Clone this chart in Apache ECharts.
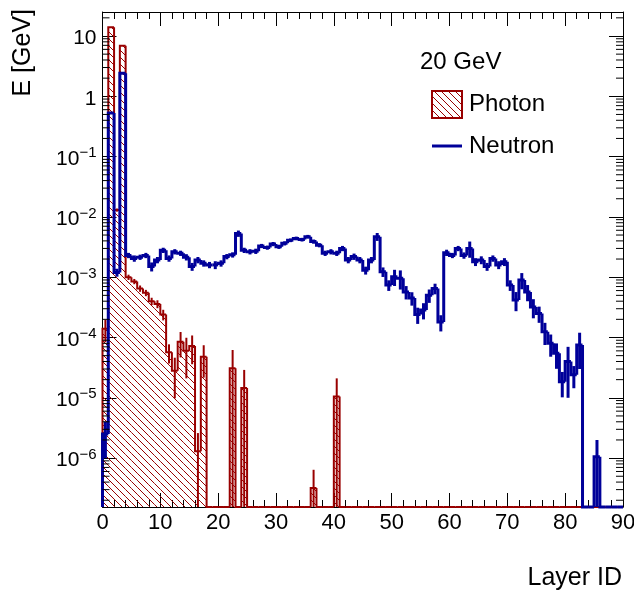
<!DOCTYPE html>
<html>
<head>
<meta charset="utf-8">
<script src="https://cdn.jsdelivr.net/npm/echarts@6/dist/echarts.min.js"></script>
<style>
  html, body { margin: 0; padding: 0; background: #fff; overflow: hidden; }
  #chart { width: 634px; height: 593px; }
</style>
</head>
<body>
<div id="chart"></div>
<script>
// Layer index of each histogram bin (bin k covers [k, k+1])
const layers = Array.from({ length: 90 }, (_, i) => i);

// Deposited energy per layer [GeV], 20 GeV photon
const photonE = [
  1.4e-4, 13.9, 1.3e-2, 6.9, 1.0e-3, 8.5e-4, 6.5e-4, 5.5e-4, 4.0e-4, 3.6e-4,
  2.4e-4, 5.7e-5, 2.8e-5, 8.5e-5, 6.0e-5, 7.2e-5, 1.3e-6, 4.8e-5, 0, 0,
  0, 0, 3.1e-5, 0, 1.45e-5, 0, 0, 0, 0, 0,
  0, 0, 0, 0, 0, 0, 3.2e-7, 0, 0, 0,
  1.05e-5, 0, 0, 0, 0, 0, 0, 0, 0, 0,
  0, 0, 0, 0, 0, 0, 0, 0, 0, 0,
  0, 0, 0, 0, 0, 0, 0, 0, 0, 0,
  0, 0, 0, 0, 0, 0, 0, 0, 0, 0,
  0, 0, 0, 0, 0, 0, 0, 0, 0, 0
];
// Relative statistical error of each photon bin
const photonRelErr = [
  0.4, 0.01, 0.06, 0.01, 0.1, 0.1, 0.12, 0.12, 0.14, 0.15,
  0.2, 0.35, 0.65, 0.45, 0.65, 0.5, 1.0, 0.55, 0, 0,
  0, 0, 1.0, 0, 1.0, 0, 0, 0, 0, 0,
  0, 0, 0, 0, 0, 0, 1.0, 0, 0, 0,
  1.0, 0, 0, 0, 0, 0, 0, 0, 0, 0,
  0, 0, 0, 0, 0, 0, 0, 0, 0, 0,
  0, 0, 0, 0, 0, 0, 0, 0, 0, 0,
  0, 0, 0, 0, 0, 0, 0, 0, 0, 0,
  0, 0, 0, 0, 0, 0, 0, 0, 0, 0
];

// Deposited energy per layer [GeV], 20 GeV neutron
const neutronE = [
  2.5e-6, 0.53, 1.2e-3, 2.4, 2.3e-3, 2.05e-3, 2.15e-3, 2.3e-3, 1.5e-3, 1.93e-3,
  2.8e-3, 2.05e-3, 2.65e-3, 2.5e-3, 2.15e-3, 1.5e-3, 1.93e-3, 1.7e-3, 1.6e-3, 1.6e-3,
  1.7e-3, 2.2e-3, 2.35e-3, 5.3e-3, 2.8e-3, 2.65e-3, 2.7e-3, 3.3e-3, 3.1e-3, 3.55e-3,
  3.2e-3, 3.65e-3, 4.1e-3, 4.4e-3, 4.2e-3, 4.7e-3, 3.9e-3, 3.4e-3, 2.5e-3, 2.65e-3,
  2.5e-3, 3.0e-3, 1.93e-3, 2.2e-3, 1.93e-3, 1.3e-3, 1.93e-3, 4.7e-3, 1.23e-3, 7.4e-4,
  1.02e-3, 9.6e-4, 5.7e-4, 4.5e-4, 2.4e-4, 2.85e-4, 5.0e-4, 6.5e-4, 1.8e-4, 2.55e-3,
  2.3e-3, 3.0e-3, 2.3e-3, 3.0e-3, 1.8e-3, 1.93e-3, 1.5e-3, 2.05e-3, 1.6e-3, 1.8e-3,
  7.4e-4, 4.2e-4, 9.0e-4, 5.7e-4, 3.2e-4, 2.5e-4, 1.25e-4, 8.0e-5, 5.5e-5, 1.85e-5,
  4.0e-5, 2.4e-5, 7.5e-5, 0, 0, 1.05e-6, 0, 0, 0, 0
];
// Relative statistical error of each neutron bin
const neutronRelErr = [
  0.6, 0.02, 0.15, 0.02, 0.1, 0.12, 0.1, 0.1, 0.17, 0.12,
  0.1, 0.12, 0.1, 0.1, 0.12, 0.15, 0.12, 0.12, 0.12, 0.15,
  0.12, 0.1, 0.1, 0.12, 0.1, 0.1, 0.1, 0.08, 0.08, 0.08,
  0.08, 0.08, 0.07, 0.07, 0.07, 0.07, 0.08, 0.08, 0.1, 0.1,
  0.1, 0.1, 0.12, 0.12, 0.12, 0.15, 0.12, 0.15, 0.18, 0.2,
  0.3, 0.35, 0.25, 0.25, 0.3, 0.3, 0.25, 0.2, 0.3, 0.12,
  0.1, 0.1, 0.12, 0.3, 0.15, 0.15, 0.15, 0.12, 0.15, 0.15,
  0.2, 0.35, 0.3, 0.3, 0.35, 0.3, 0.4, 0.4, 0.45, 0.45,
  0.75, 0.4, 0.6, 0, 0, 0.9, 0, 0, 0, 0
];

const seriesNames = ['Photon', 'Neutron'];
const headerText = '20 GeV';
const xTitle = 'Layer ID';
const yTitle = 'E [GeV]';

// Axis ranges
const X_MIN = 0, X_MAX = 90, X_STEP = 10;
const Y_MIN = 1.545e-7, Y_MAX = 25;

const FONT = '"Liberation Sans", Arial, Helvetica, sans-serif';
const RED = '#990000';
const BLUE = '#000099';

// Diagonal "\\\" hatch tile used as a repeating fill pattern
function hatchTile(color) {
  const s = 7;
  const c = document.createElement('canvas');
  c.width = s; c.height = s;
  const g = c.getContext('2d');
  g.strokeStyle = color;
  g.lineWidth = 1;
  g.beginPath();
  g.moveTo(-1, -1); g.lineTo(s + 1, s + 1);
  g.moveTo(-1, s - 1); g.lineTo(1, s + 1);
  g.moveTo(s - 1, -1); g.lineTo(s + 1, 1);
  g.stroke();
  return c;
}
const hatch = { image: hatchTile(RED), repeat: 'repeat' };

// Step-outline histogram with optional hatch fill and vertical error bars
function histSeries(name, vals, relErr, color, lw, fill, z) {
  return {
    type: 'custom',
    name: name,
    coordinateSystem: 'cartesian2d',
    xAxisIndex: 0,
    yAxisIndex: 0,
    clip: false,
    z: z,
    data: layers.map(k => [k, vals[k] > 0 ? vals[k] : Y_MIN]),
    encode: { x: 0, y: 1 },
    renderItem: function (params, api) {
      const k = api.value(0);
      const v = vals[k];
      const prev = k > 0 ? vals[k - 1] : 0;
      const yOf = val => api.coord([k, Math.max(val, Y_MIN)])[1];
      const x0 = api.coord([k, Y_MIN])[0];
      const x1 = api.coord([k + 1, Y_MIN])[0];
      const yb = yOf(0);
      const yv = yOf(v);
      const yp = yOf(prev);
      const children = [];
      if (fill && v > 0) {
        children.push({
          type: 'rect',
          shape: { x: x0, y: yv, width: x1 - x0, height: yb - yv },
          style: { fill: fill, stroke: null }
        });
      }
      if (v > 0 && relErr[k] > 0) {
        const e = v * relErr[k];
        const xc = (x0 + x1) / 2;
        children.push({
          type: 'line',
          shape: { x1: xc, y1: yOf(v - e), x2: xc, y2: yOf(v + e) },
          style: { stroke: color, lineWidth: lw }
        });
      }
      children.push({
        type: 'polyline',
        shape: { points: [[x0, yp], [x0, yv], [x1, yv]] },
        style: { stroke: color, lineWidth: lw, fill: null }
      });
      return { type: 'group', children: children };
    }
  };
}

// Minor ticks of the log axis at 2..9 x 10^n, drawn inward on both frame sides
const yMinorTicks = [];
for (let d = -7; d <= 1; d++) {
  for (let m = 2; m <= 9; m++) {
    const v = m * Math.pow(10, d);
    if (v > Y_MIN && v < Y_MAX) yMinorTicks.push(v);
  }
}
const yMinorSeries = {
  type: 'custom',
  coordinateSystem: 'cartesian2d',
  xAxisIndex: 0,
  yAxisIndex: 0,
  silent: true,
  z: 10,
  data: yMinorTicks.map(v => [X_MIN, v]),
  encode: { x: 0, y: 1 },
  renderItem: function (params, api) {
    const p0 = api.coord([X_MIN, api.value(1)]);
    const p1 = api.coord([X_MAX, api.value(1)]);
    const st = { stroke: '#000', lineWidth: 1 };
    return {
      type: 'group',
      children: [
        { type: 'line', shape: { x1: p0[0], y1: p0[1], x2: p0[0] + 7, y2: p0[1] }, style: st },
        { type: 'line', shape: { x1: p1[0], y1: p1[1], x2: p1[0] - 7, y2: p1[1] }, style: st }
      ]
    };
  }
};

function powerLabel(value) {
  const lg = Math.log10(value);
  const e = Math.round(lg);
  if (Math.abs(lg - e) > 1e-6) return '';
  if (e === 1) return '{b|10}';
  if (e === 0) return '{b|1}';
  return '{b|10}{s|\u2212' + (-e) + '}';
}

const frameLine = { show: true, onZero: false, lineStyle: { color: '#000', width: 1 } };
const majorTick = { show: true, inside: true, length: 14, lineStyle: { color: '#000', width: 1 } };

const xAxisBase = {
  type: 'value', min: X_MIN, max: X_MAX, interval: X_STEP,
  axisLine: frameLine, axisTick: majorTick,
  minorTick: { show: true, splitNumber: 5, length: 7, lineStyle: { color: '#000', width: 1 } },
  splitLine: { show: false }, minorSplitLine: { show: false }
};
const yAxisBase = {
  type: 'log', logBase: 10, min: Y_MIN, max: Y_MAX,
  axisLine: frameLine, axisTick: majorTick,
  splitLine: { show: false }
};

const labelFont = '24px ' + FONT;
const titleFont = '25px ' + FONT;

const option = {
  animation: false,
  backgroundColor: '#fff',
  grid: { left: 102.5, right: 11, top: 12, bottom: 86, containLabel: false, outerBoundsMode: 'none' },
  xAxis: [
    Object.assign({}, xAxisBase, {
      position: 'bottom',
      axisLabel: { show: true, color: '#000', fontSize: 22, fontFamily: FONT, margin: 5 }
    }),
    Object.assign({}, xAxisBase, { position: 'top', axisLabel: { show: false } })
  ],
  yAxis: [
    Object.assign({}, yAxisBase, {
      position: 'left',
      axisLabel: {
        show: true, margin: 6, showMinLabel: false, showMaxLabel: false,
        padding: [5, 0, 0, 0],
        formatter: powerLabel,
        rich: {
          b: { fontSize: 21, fontFamily: FONT, color: '#000' },
          s: { fontSize: 15, fontFamily: FONT, color: '#000', padding: [0, 0, 12, 0] }
        }
      }
    }),
    Object.assign({}, yAxisBase, { position: 'right', axisLabel: { show: false } })
  ],
  series: [
    histSeries(seriesNames[0], photonE, photonRelErr, RED, 2, hatch, 2),
    histSeries(seriesNames[1], neutronE, neutronRelErr, BLUE, 3, null, 3),
    yMinorSeries
  ],
  graphic: [
    { type: 'text', x: 23, y: 9, rotation: Math.PI / 2,
      style: { text: yTitle, font: titleFont, fill: '#000', align: 'right', verticalAlign: 'middle' } },
    { type: 'text', x: 622, y: 578,
      style: { text: xTitle, font: titleFont, fill: '#000', align: 'right', verticalAlign: 'middle' } },
    { type: 'text', x: 420, y: 62,
      style: { text: headerText, font: labelFont, fill: '#000', align: 'left', verticalAlign: 'middle' } },
    { type: 'rect', shape: { x: 432, y: 91, width: 30, height: 27 },
      style: { fill: hatch, stroke: RED, lineWidth: 2 } },
    { type: 'text', x: 469, y: 104,
      style: { text: seriesNames[0], font: labelFont, fill: '#000', align: 'left', verticalAlign: 'middle' } },
    { type: 'line', shape: { x1: 432, y1: 146, x2: 462, y2: 146 },
      style: { stroke: BLUE, lineWidth: 3 } },
    { type: 'text', x: 469, y: 146,
      style: { text: seriesNames[1], font: labelFont, fill: '#000', align: 'left', verticalAlign: 'middle' } }
  ]
};

const chart = echarts.init(document.getElementById('chart'), null, { renderer: 'canvas' });
chart.setOption(option);
</script>
</body>
</html>
